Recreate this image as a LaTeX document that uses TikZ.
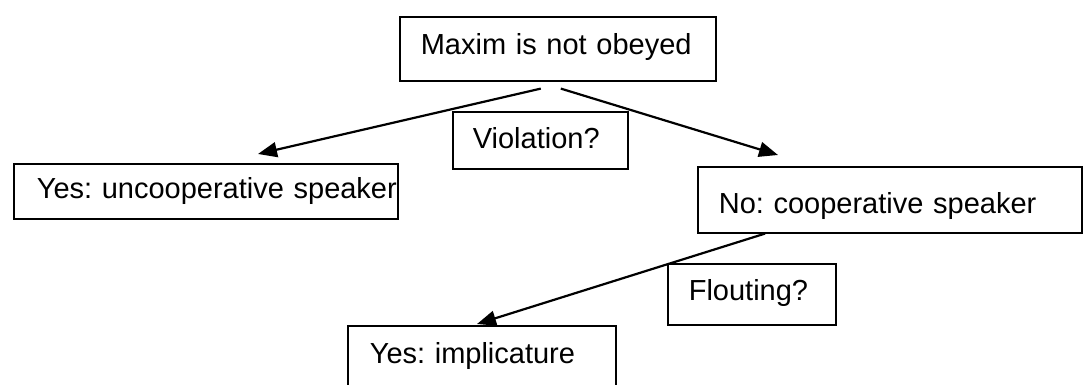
\documentclass[tikz,border=0pt]{standalone}
\usepackage{fontspec}
\setmainfont{Liberation Sans}
\usetikzlibrary{arrows.meta,calc}
\frenchspacing
\begin{document}
\begin{tikzpicture}[x=1pt,y=-1pt,
  textbox/.style={draw, line width=1.6pt, anchor=north west, inner ysep=0pt,
    align=left, font=\fontsize{29}{34}\selectfont},
  branch/.style={line width=2.2pt, -{Triangle[length=19pt,width=15pt]}}]
\useasboundingbox (0,0) rectangle (1083,385);
\clip (0,0) rectangle (1083,385);

% decision boxes
\node[textbox, inner xsep=21pt, text width=274pt, text height=38pt, text depth=26pt]
  (maxim) at (399,16) {Maxim is not obeyed};
\node[textbox, inner xsep=20pt, text width=135pt, text height=37pt, text depth=20pt]
  (viol) at (452,111) {Violation?};
\node[textbox, inner xsep=23pt, text width=338pt, text height=35pt, text depth=20pt]
  (yesunc) at (13,163) {\mbox{Yes: uncooperative speaker}};
\node[textbox, inner xsep=21pt, text width=342pt, text height=47pt, text depth=19pt]
  (nocoop) at (697,166) {No: cooperative speaker};
\node[textbox, inner xsep=21pt, text width=126pt, text height=37pt, text depth=24pt]
  (flout) at (667,263) {Flouting?};
\node[textbox, inner xsep=22pt, text width=224pt, text height=38pt, text depth=40pt]
  (impl) at (347,325) {Yes: implicature};

% branches
\draw[branch] ($(maxim.south)+(-17,7)$) -- ($(yesunc.north west)+(245,-9)$);
\draw[branch] ($(maxim.south)+(3,7)$) -- ($(nocoop.north west)+(81,-11)$);
\draw[branch] ($(nocoop.south west)+(68,0)$) -- ($(impl.north west)+(130,-1)$);
\end{tikzpicture}
\end{document}
